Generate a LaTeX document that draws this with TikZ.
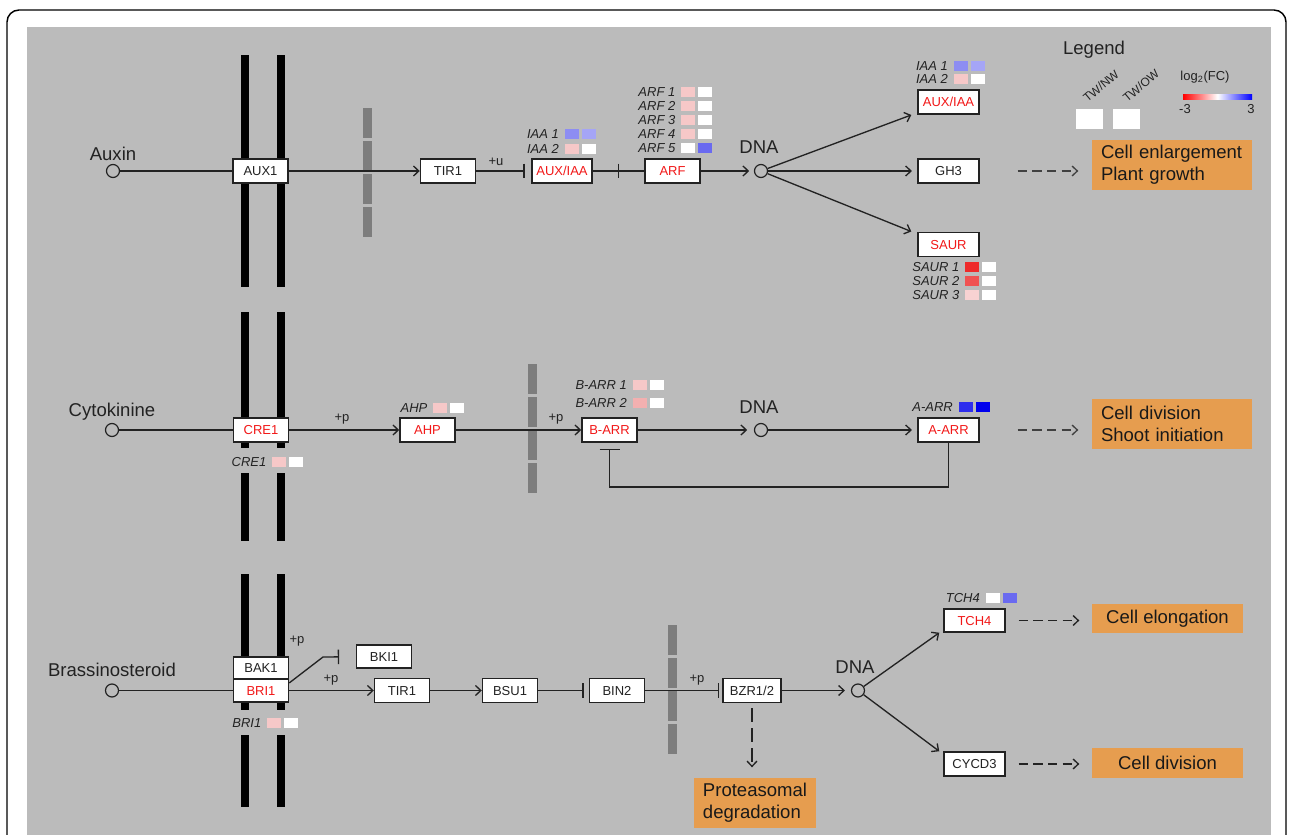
\documentclass[tikz,border=0pt]{standalone}
\usepackage{fontspec}
\setmainfont{Liberation Sans}
\usepackage{tikz}
\usetikzlibrary{arrows.meta,positioning}
\definecolor{panel}{HTML}{BBBBBB}
\definecolor{wall}{HTML}{7D7D7D}
\definecolor{effect}{HTML}{E69D4F}
\definecolor{linec}{HTML}{222222}
\definecolor{genered}{HTML}{F21818}
\definecolor{pinklt}{HTML}{F6C8C8}
\definecolor{pinkmd}{HTML}{F3B0B0}
\definecolor{pinkpl}{HTML}{F8D2D2}
\definecolor{bluelt}{HTML}{8D8DF2}
\definecolor{bluepl}{HTML}{A5A5F6}
\definecolor{bluemd}{HTML}{6A6AF0}
\definecolor{bluedk}{HTML}{2E2EEE}
\definecolor{bluefl}{HTML}{0000EE}
\definecolor{redfl}{HTML}{EE2A2A}
\definecolor{redmd}{HTML}{F05252}
\newcommand{\genefont}{\fontsize{9.75}{11}\selectfont}
\newcommand{\labelfont}{\fontsize{13.9}{16.5}\selectfont}
\tikzset{
    %Define standard arrow tip
    >={Straight Barb[length=4pt,width=7.5pt]},
    %Define style for gene boxes
    gene/.style={
           rectangle,
           draw=linec, line width=1.1pt,
           fill=white,
           minimum width=41.25pt,
           minimum height=18pt,
           inner sep=0pt,
           text height=7pt, text depth=0pt,
           font=\genefont,
           text centered},
    genew/.style={gene, minimum width=45.75pt},
    diff/.style={text=genered},
    circ/.style={
           circle,
           draw=linec, line width=0.9pt,
           minimum size=9.75pt,
           inner sep=0pt},
    lbl/.style={
           inner sep=0pt,
           text height=10pt, text depth=0pt,
           font=\labelfont},
    plabel/.style={inner sep=0pt, font=\genefont},
    effectbox/.style={
           rectangle,
           fill=effect,
           inner sep=0pt,
           font=\labelfont,
           text=black!90},
    % expression squares
    fcbox/.style={
           rectangle,
           minimum width=10.5pt,
           minimum height=7.5pt,
           inner sep=0pt},
    fclabel/.style={
           anchor=east,
           inner sep=0pt,
           text height=7pt, text depth=0pt,
           font=\genefont\itshape},
    % Define arrow styles
    inh/.style={-{Bar[width=11pt]}},
    dsh/.style={->, dash pattern=on 7pt off 4pt}
}
\newcommand{\fcpair}[6]{%
  \node[fclabel] (#1l) at (#2-12,#3) {#4};
  \node[fcbox, fill=#5] (#1a) at (#2,#3) {};
  \node[fcbox, fill=#6] (#1b) at (#2+17,#3) {};}

\begin{document}
\begin{tikzpicture}[x=0.75pt,y=-0.75pt,->,line width=1pt,color=linec]
\useasboundingbox (0,0) rectangle (1290,835);
\clip (0,0) rectangle (1290,835);
\fill[white] (0,0) rectangle (1290,835);
\draw[-,black,line width=1.1pt,rounded corners=9pt] (7,850) -- (7,10) -- (1286,10) -- (1286,850);
\fill[panel] (27,27) rectangle (1271,850);

% membranes
\foreach \xb in {241,277}
  \foreach \ya/\yb in {55/287,312/448,473/541,574/710,735/807}
    \fill[black] (\xb,\ya) rectangle (\xb+8,\yb);
% nuclear envelope
\foreach \xw/\yw in {363/108,528/364,668/625}
  \foreach \k in {0,...,3}
    \fill[wall] (\xw,\yw+33*\k) rectangle (\xw+9,\yw+33*\k+30);

% auxin
\node[circ](auxin) at (113,171) {};
\node[lbl](auxinl) at (113,154) {Auxin};
\node[gene](aux1) at (260.5,171) {AUX1};
\node[gene](tir1) at (448,171) {TIR1};
\node[gene, diff, minimum width=45pt](auxiaa) at (562,171) {AUX/IAA};
\node[gene, diff](arf) at (672.5,171) {ARF};
\node[circ](dna1) at (761,171) {};
\node[lbl](dnal1) at (759,147) {DNA};
\node[genew, diff](auxiaab) at (948.5,102) {AUX/IAA};
\node[genew](gh3) at (948.5,171) {GH3};
\node[genew, diff](saur) at (948.5,244.5) {SAUR};
\node[effectbox, minimum width=120pt, minimum height=37.5pt, text width=106.5pt, align=left](eff1) at (1172,165) {Cell enlargement\\Plant growth};
\node[plabel](pu) at (496,162) {+u};
\coordinate (cut1) at (619,171);
\fcpair{iaa1a}{571.5}{134}{IAA 1}{bluelt}{bluepl}
\fcpair{iaa2a}{571.5}{149}{IAA 2}{pinklt}{white}
\fcpair{arf1}{688}{92}{ARF 1}{pinklt}{white}
\fcpair{arf2}{688}{106}{ARF 2}{pinklt}{white}
\fcpair{arf3}{688}{120}{ARF 3}{pinklt}{white}
\fcpair{arf4}{688}{134}{ARF 4}{pinklt}{white}
\fcpair{arf5}{688}{148}{ARF 5}{white}{bluemd}
\fcpair{iaa1b}{960.5}{66}{IAA 1}{bluelt}{bluepl}
\fcpair{iaa2b}{960.5}{79}{IAA 2}{pinklt}{white}
\fcpair{saur1}{972}{267}{SAUR 1}{redfl}{white}
\fcpair{saur2}{972}{281}{SAUR 2}{redmd}{white}
\fcpair{saur3}{972}{295}{SAUR 3}{pinkpl}{white}

% cytokinine
\node[circ](cyto) at (112,430) {};
\node[lbl](cytol) at (112,410) {Cytokinine};
\node[gene, diff](cre1) at (261,430) {CRE1};
\node[gene, diff](ahp) at (427.5,430) {AHP};
\node[gene, diff](barr) at (609.5,430) {B-ARR};
\node[circ](dna2) at (761,430) {};
\node[lbl](dnal2) at (759,407) {DNA};
\node[genew, diff](aarr) at (948.5,430) {A-ARR};
\node[effectbox, minimum width=120pt, minimum height=37.5pt, text width=106.5pt, align=left](eff2) at (1172,424) {Cell division\\Shoot initiation};
\node[plabel](pp1) at (342,419) {+p};
\node[plabel](pp2) at (556,419) {+p};
\coordinate (fb) at (609.5,487);
\fcpair{cre1x}{279}{461.5}{CRE1}{pinklt}{white}
\fcpair{ahpx}{440}{407.5}{AHP}{pinklt}{white}
\fcpair{barr1x}{639.5}{385}{B-ARR 1}{pinklt}{white}
\fcpair{barr2x}{639.5}{402.5}{B-ARR 2}{pinkmd}{white}
\fcpair{aarrx}{965.5}{407}{A-ARR}{bluedk}{bluefl}

% brassinosteroid
\node[circ](brass) at (112,690.5) {};
\node[lbl](brassl) at (112,670) {Brassinosteroid};
\node[gene, diff, minimum height=17.25pt](bri1) at (261,690.5) {BRI1};
\node[gene, minimum height=16.5pt, above=-1.1pt of bri1](bak1) {BAK1};
\node[gene, minimum height=17.25pt](bki1) at (384,656.5) {BKI1};
\node[gene](tir1b) at (402,690.5) {TIR1};
\node[gene](bsu1) at (510,690.5) {BSU1};
\node[gene](bin2) at (617,690.5) {BIN2};
\node[gene, minimum width=43.5pt](bzr) at (752,690.5) {BZR1/2};
\node[circ](dna3) at (858,690.5) {};
\node[lbl](dnal3) at (855,667) {DNA};
\node[genew, diff, minimum height=17.25pt](tch4) at (974.5,620.5) {TCH4};
\node[genew](cycd3) at (974.5,764) {CYCD3};
\node[effectbox, minimum width=113.25pt, minimum height=21.75pt](eff3) at (1167.5,618.5) {Cell elongation};
\node[effectbox, minimum width=113.25pt, minimum height=22.5pt](eff4) at (1167.5,763) {Cell division};
\node[effectbox, minimum width=91.5pt, minimum height=37.5pt, align=left](eff5) at (755,803) {Proteasomal\\degradation};
\node[plabel](pp3) at (297,641) {+p};
\node[plabel](pp4) at (331,680) {+p};
\node[plabel](pp5) at (697,680) {+p};
\coordinate (kink) at (323,657);
\fcpair{tch4x}{992.5}{597.5}{TCH4}{white}{bluemd}
\fcpair{bri1x}{274}{723}{BRI1}{pinklt}{white}

% legend
\node[lbl](legend) at (1094,48) {Legend};
\node[fcbox, fill=white, minimum width=20.25pt, minimum height=15pt](lgbox1) at (1089.5,119) {};
\node[fcbox, fill=white, minimum width=20.25pt, minimum height=15pt](lgbox2) at (1126,119) {};
\node[plabel, font=\fontsize{9}{10}\selectfont, rotate=40](lgt1) at (1101,86) {TW/NW};
\node[plabel, font=\fontsize{9}{10}\selectfont, rotate=40](lgt2) at (1141,86) {TW/OW};
\node[plabel](lgfc) at (1205,77) {log\textsubscript{2}(FC)};
\shade[left color=red, right color=blue, middle color=white] (1183,94) rectangle (1252,99);
\node[plabel](lgmin) at (1185,109) {-3};
\node[plabel](lgmax) at (1251,109) {3};

\path
    (auxin) edge[-] (aux1)
    (aux1) edge (tir1)
    (tir1) edge[inh, shorten >=5pt] (auxiaa)
    (auxiaa) edge[inh] (cut1)
    (cut1) edge[-] (arf)
    (arf) edge[shorten >=3.5pt] (dna1)
    (dna1) edge[shorten >=0.5pt] ([xshift=-4pt]auxiaab.south west)
    (dna1) edge[shorten >=4pt] (gh3)
    (dna1) edge[shorten >=0.5pt] ([xshift=-4pt]saur.north west)
    (gh3) edge[dsh, black!75, shorten <=28.5pt, shorten >=9.75pt] (gh3 -| eff1.west);
\path
    (cyto) edge[-] (cre1)
    (cre1) edge (ahp)
    (ahp) edge (barr)
    (barr) edge[shorten >=5pt] (dna2)
    (dna2) edge[shorten >=4pt] (aarr)
    (aarr) edge[dsh, black!75, shorten <=28.5pt, shorten >=9.75pt] (aarr -| eff2.west);
\draw[-{Bar[width=15pt]}, line width=0.9pt, shorten >=4.5pt] (aarr) |- (fb) -- (barr);
\draw[inh, shorten >=12.5pt] (bri1.15) -- (kink) -- (bki1);
\path
    (brass) edge[-, line width=0.7pt] (bri1)
    (bri1) edge (tir1b)
    (tir1b) edge (bsu1)
    (bsu1) edge[inh, shorten >=3.75pt] (bin2)
    (bin2) edge[inh, shorten >=2.25pt] (bzr)
    (bzr) edge[shorten >=4.5pt] (dna3)
    (dna3) edge ([xshift=-3pt]tch4.south west)
    (dna3) edge ([xshift=-3pt]cycd3.north west)
    (bzr) edge[dsh, dash pattern=on 10pt off 5pt, shorten <=3.75pt, shorten >=7.5pt] (bzr |- eff5.north)
    (tch4) edge[dsh, shorten <=9.75pt, shorten >=9pt] (tch4 -| eff3.west)
    (cycd3) edge[dsh, shorten <=9.75pt, shorten >=9pt] (cycd3 -| eff4.west);
\end{tikzpicture}
\end{document}
